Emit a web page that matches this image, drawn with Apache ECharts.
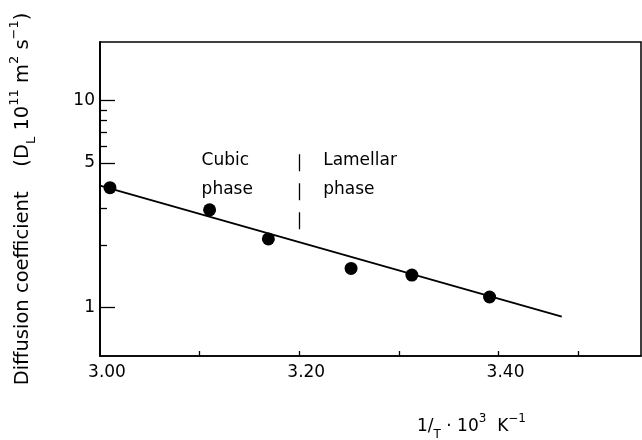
<!DOCTYPE html>
<html>
<head>
<meta charset="utf-8">
<script src="https://cdn.jsdelivr.net/npm/echarts@6/dist/echarts.min.js"></script>
<style>html,body{margin:0;padding:0;background:#fff}#c{width:642px;height:440px}</style>
</head>
<body>
<div id="c"></div>
<script>
// ---- data ----
const xTickLabels = [3.00, 3.20, 3.40];
const xTickMarks = [3.10, 3.20, 3.30, 3.40, 3.48];
const yTickLabels = [1, 5, 10];
const yMinorTicks = [2, 3, 6, 7, 8, 9];
const pointX = [3.010, 3.110, 3.169, 3.252, 3.313, 3.391];
const pointY = [3.79, 2.96, 2.14, 1.54, 1.43, 1.12];
const fitX = [3.00, 3.4635];
const fitY = [3.88, 0.90];
const boundaryX = 3.20;
const boundaryY = [5.5, 2.32];
const phaseText = ['Cubic\nphase', 'Lamellar\nphase'];
const phaseX = [3.102, 3.224];
const phaseY = [4.36, 4.36];

const FONT = 'DejaVu Sans';
const INK = '#000';
const X_MIN = 3.0, X_MAX = 3.543, Y_MIN = 0.5805, Y_MAX = 19.21;

const chart = echarts.init(document.getElementById('c'), null, {renderer: 'canvas'});

const baseY = {
  type: 'log', logBase: 10, min: Y_MIN, max: Y_MAX, position: 'left',
  splitLine: {show: false}, minorTick: {show: false},
  axisLine: {show: true, lineStyle: {color: INK, width: 1.5}}
};

chart.setOption({
  animation: false,
  backgroundColor: '#fff',
  grid: {left: 99, top: 42, right: 1, bottom: 84, show: true, borderColor: INK, borderWidth: 1.5},
  title: {
    text: '1/{sub|T} · 10{sup|3}  K{sup|−1}',
    left: 412, top: 408,
    textStyle: {
      fontFamily: FONT, fontSize: 17, fontWeight: 'normal', color: INK, lineHeight: 28,
      rich: {
        sub: {fontFamily: FONT, fontSize: 12, lineHeight: 12, verticalAlign: 'bottom', color: INK},
        sup: {fontFamily: FONT, fontSize: 12, lineHeight: 12, verticalAlign: 'top', color: INK}
      }
    }
  },
  xAxis: {
    type: 'value', min: X_MIN, max: X_MAX,
    splitLine: {show: false},
    axisLine: {show: true, lineStyle: {color: INK, width: 1.5}},
    axisTick: {show: true, inside: true, length: 5, customValues: xTickMarks, lineStyle: {color: INK, width: 1.3}},
    axisLabel: {
      show: true, customValues: xTickLabels, margin: 8, padding: [0, 0, 0, 14],
      fontFamily: FONT, fontSize: 17, color: INK,
      formatter: v => Number(v).toFixed(2)
    }
  },
  yAxis: [
    Object.assign({}, baseY, {
      name: 'Diffusion coefficient    (D{sub|L} 10{sup|11} m{sup|2} s{sup|−1})',
      nameLocation: 'middle', nameRotate: 90, nameGap: 62,
      nameTextStyle: {
        fontFamily: FONT, fontSize: 19.5, color: INK, lineHeight: 30,
        rich: {
          sub: {fontFamily: FONT, fontSize: 13, lineHeight: 13, verticalAlign: 'bottom', color: INK},
          sup: {fontFamily: FONT, fontSize: 13, lineHeight: 13, verticalAlign: 'top', color: INK}
        }
      },
      axisTick: {show: true, inside: true, length: 15, customValues: yTickLabels, lineStyle: {color: INK, width: 1.3}},
      axisLabel: {show: true, customValues: yTickLabels, margin: 5, fontFamily: FONT, fontSize: 17, color: INK,
        formatter: v => String(Math.round(v))}
    }),
    Object.assign({}, baseY, {
      axisTick: {show: true, inside: true, length: 7, customValues: yMinorTicks, lineStyle: {color: INK, width: 1.3}},
      axisLabel: {show: false}
    })
  ],
  series: [
    {
      type: 'line', yAxisIndex: 0,
      data: fitX.map((x, i) => [x, fitY[i]]),
      showSymbol: false, symbol: 'none',
      lineStyle: {color: INK, width: 1.8},
      markLine: {
        silent: true, symbol: 'none', label: {show: false},
        lineStyle: {color: INK, width: 1.3, type: [17, 12], opacity: 1},
        data: [[{coord: [boundaryX, boundaryY[0]]}, {coord: [boundaryX, boundaryY[1]]}]]
      }
    },
    {
      type: 'scatter', yAxisIndex: 0,
      data: pointX.map((x, i) => [x, pointY[i]]),
      symbol: 'circle', symbolSize: 13,
      itemStyle: {color: INK, opacity: 1}
    },
    {
      type: 'scatter', yAxisIndex: 0, silent: true,
      data: phaseX.map((x, i) => ({value: [x, phaseY[i]], label: {formatter: phaseText[i]}})),
      symbolSize: 0,
      itemStyle: {opacity: 1},
      label: {
        show: true, position: [0, 0], align: 'left', verticalAlign: 'middle', opacity: 1,
        fontFamily: FONT, fontSize: 17, lineHeight: 29, color: INK
      }
    }
  ]
});
</script>
</body>
</html>
